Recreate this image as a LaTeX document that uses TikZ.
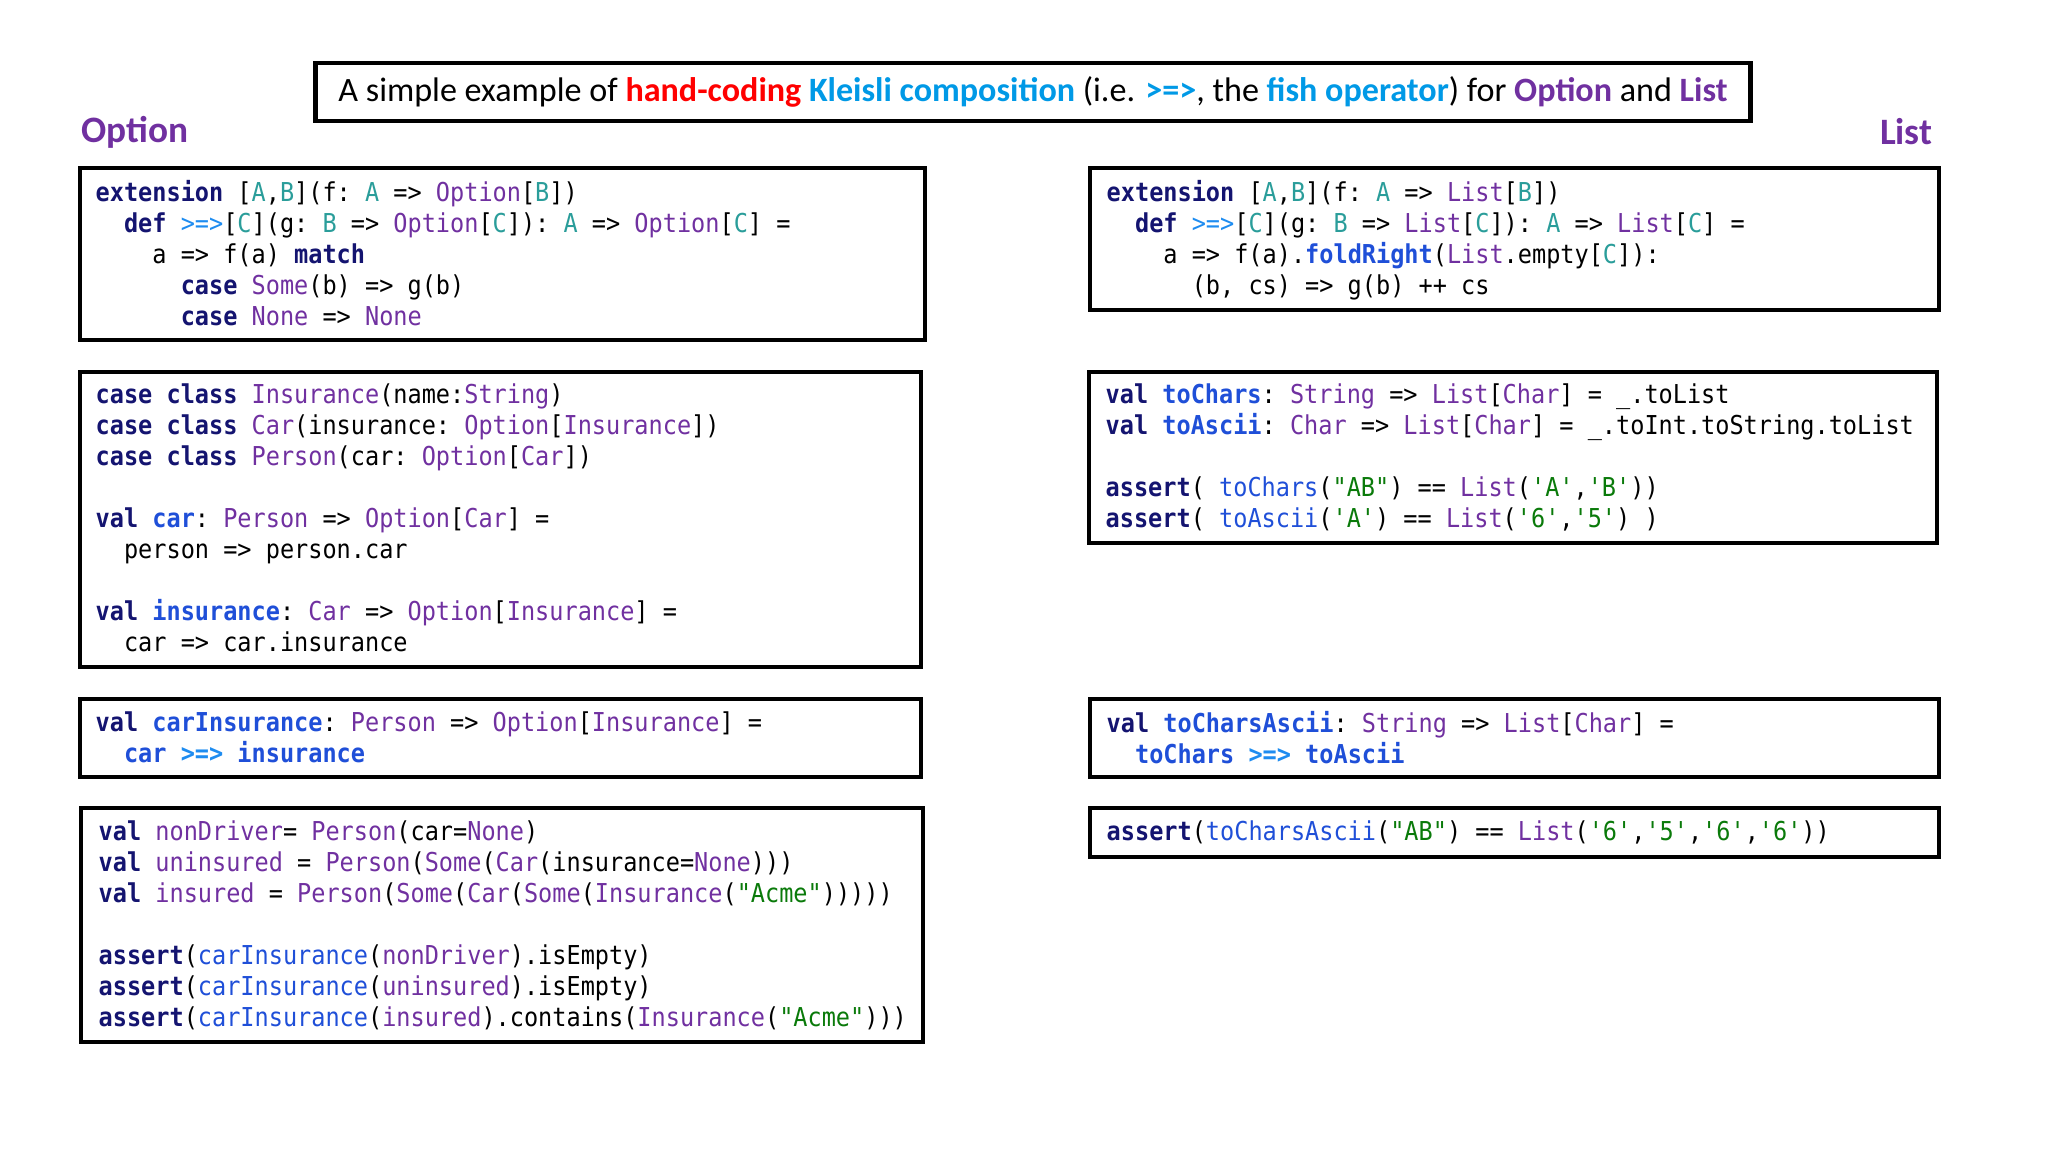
\documentclass[tikz,border=0pt]{standalone}
\usepackage{fontspec}
\setmainfont{Carlito}
\setmonofont[FakeStretch=0.905]{DejaVu Sans Mono}
\definecolor{kw}{HTML}{141470}
\definecolor{ty}{HTML}{7030A0}
\definecolor{tp}{HTML}{2A9D9A}
\definecolor{fn}{HTML}{1F4FD8}
\definecolor{sg}{HTML}{0A7A0A}
\definecolor{fish}{HTML}{1E8CF0}
\definecolor{ttl}{HTML}{0099E6}
\newcommand\kwd[1]{\textbf{\textcolor{kw}{#1}}}
\newcommand\typ[1]{\textcolor{ty}{#1}}
\newcommand\tpar[1]{\textcolor{tp}{#1}}
\newcommand\fnm[1]{\textcolor{fn}{#1}}
\newcommand\fnb[1]{\textbf{\textcolor{fn}{#1}}}
\newcommand\strg[1]{\textcolor{sg}{#1}}
\newcommand\fishop{\textcolor{fish}{>=>}}
\newcommand\fishb{\textbf{\textcolor{fish}{>=>}}}
\begin{document}
\begin{tikzpicture}[x=0.01cm,y=-0.01cm,
  box/.style={draw=black,line width=1.2pt},
  code/.style={anchor=north west,inner sep=0pt,align=left,
    font=\fontsize{7.4}{8.82}\selectfont\ttfamily},
  lbl/.style={font=\fontsize{10.6}{12}\selectfont\bfseries,text=ty,inner sep=0pt}]
\useasboundingbox (0,0) rectangle (2048,1152);
% title
\node[box,minimum width=14.34cm,minimum height=0.58cm,inner sep=0pt,font=\fontsize{9.7}{11}\selectfont] (title) at (1033,92)
 {A simple example of \textbf{\textcolor{red}{hand-coding}} \textbf{\textcolor{ttl}{Kleisli composition}} (i.e. \textbf{\textcolor{ttl}{>=>}}, the \textbf{\textcolor{ttl}{fish operator}}) for \textbf{\textcolor{ty}{Option}} and \textbf{\textcolor{ty}{List}}};
\node[lbl,anchor=west] (optlbl) at (81,132) {Option};
\node[lbl,anchor=east] (listlbl) at (1933,132) {List};
% boxes
\draw[box] (80,168) rectangle (925,340);
\draw[box] (80,372) rectangle (921,667);
\draw[box] (80,699) rectangle (921,777);
\draw[box] (81,808) rectangle (923,1042);
\draw[box] (1090,168) rectangle (1939,310);
\draw[box] (1089,372) rectangle (1937,543);
\draw[box] (1090,699) rectangle (1939,777);
\draw[box] (1090,808) rectangle (1939,857);
% code
\node[code] (c1) at (95,180) {%
\kwd{extension} [\tpar{A},\tpar{B}](f: \tpar{A} => \typ{Option}[\tpar{B}])\\
\ \ \kwd{def} \fishop[\tpar{C}](g: \tpar{B} => \typ{Option}[\tpar{C}]): \tpar{A} => \typ{Option}[\tpar{C}] =\\
\ \ \ \ a => f(a) \kwd{match}\\
\ \ \ \ \ \ \kwd{case} \typ{Some}(b) => g(b)\\
\ \ \ \ \ \ \kwd{case} \typ{None} => \typ{None}};
\node[code] (c2) at (95,383) {%
\kwd{case class} \typ{Insurance}(name:\typ{String})\\
\kwd{case class} \typ{Car}(insurance: \typ{Option}[\typ{Insurance}])\\
\kwd{case class} \typ{Person}(car: \typ{Option}[\typ{Car}])\\
~\\
\kwd{val} \fnb{car}: \typ{Person} => \typ{Option}[\typ{Car}] =\\
\ \ person => person.car\\
~\\
\kwd{val} \fnb{insurance}: \typ{Car} => \typ{Option}[\typ{Insurance}] =\\
\ \ car => car.insurance};
\node[code] (c3) at (95,711) {%
\kwd{val} \fnb{carInsurance}: \typ{Person} => \typ{Option}[\typ{Insurance}] =\\
\ \ \fnb{car} \fishb{} \fnb{insurance}};
\node[code] (c4) at (98,820) {%
\kwd{val} \typ{nonDriver}= \typ{Person}(car=\typ{None})\\
\kwd{val} \typ{uninsured} = \typ{Person}(\typ{Some}(\typ{Car}(insurance=\typ{None})))\\
\kwd{val} \typ{insured} = \typ{Person}(\typ{Some}(\typ{Car}(\typ{Some}(\typ{Insurance}(\strg{"Acme"})))))\\
~\\
\kwd{assert}(\fnm{carInsurance}(\typ{nonDriver}).isEmpty)\\
\kwd{assert}(\fnm{carInsurance}(\typ{uninsured}).isEmpty)\\
\kwd{assert}(\fnm{carInsurance}(\typ{insured}).contains(\typ{Insurance}(\strg{"Acme"})))};
\node[code] (c5) at (1106,180) {%
\kwd{extension} [\tpar{A},\tpar{B}](f: \tpar{A} => \typ{List}[\tpar{B}])\\
\ \ \kwd{def} \fishop[\tpar{C}](g: \tpar{B} => \typ{List}[\tpar{C}]): \tpar{A} => \typ{List}[\tpar{C}] =\\
\ \ \ \ a => f(a).\fnb{foldRight}(\typ{List}.empty[\tpar{C}]):\\
\ \ \ \ \ \ (b, cs) => g(b) ++ cs};
\node[code] (c6) at (1105,383) {%
\kwd{val} \fnb{toChars}: \typ{String} => \typ{List}[\typ{Char}] = \_.toList\\
\kwd{val} \fnb{toAscii}: \typ{Char} => \typ{List}[\typ{Char}] = \_.toInt.toString.toList\\
~\\
\kwd{assert}( \fnm{toChars}(\strg{"AB"}) == \typ{List}(\strg{'A'},\strg{'B'}))\\
\kwd{assert}( \fnm{toAscii}(\strg{'A'}) == \typ{List}(\strg{'6'},\strg{'5'}) )};
\node[code] (c7) at (1106,711) {%
\kwd{val} \fnb{toCharsAscii}: \typ{String} => \typ{List}[\typ{Char}] =\\
\ \ \fnb{toChars} \fishb{} \fnb{toAscii}};
\node[code] (c8) at (1106,820) {%
\kwd{assert}(\fnm{toCharsAscii}(\strg{"AB"}) == \typ{List}(\strg{'6'},\strg{'5'},\strg{'6'},\strg{'6'}))};
\end{tikzpicture}
\end{document}
